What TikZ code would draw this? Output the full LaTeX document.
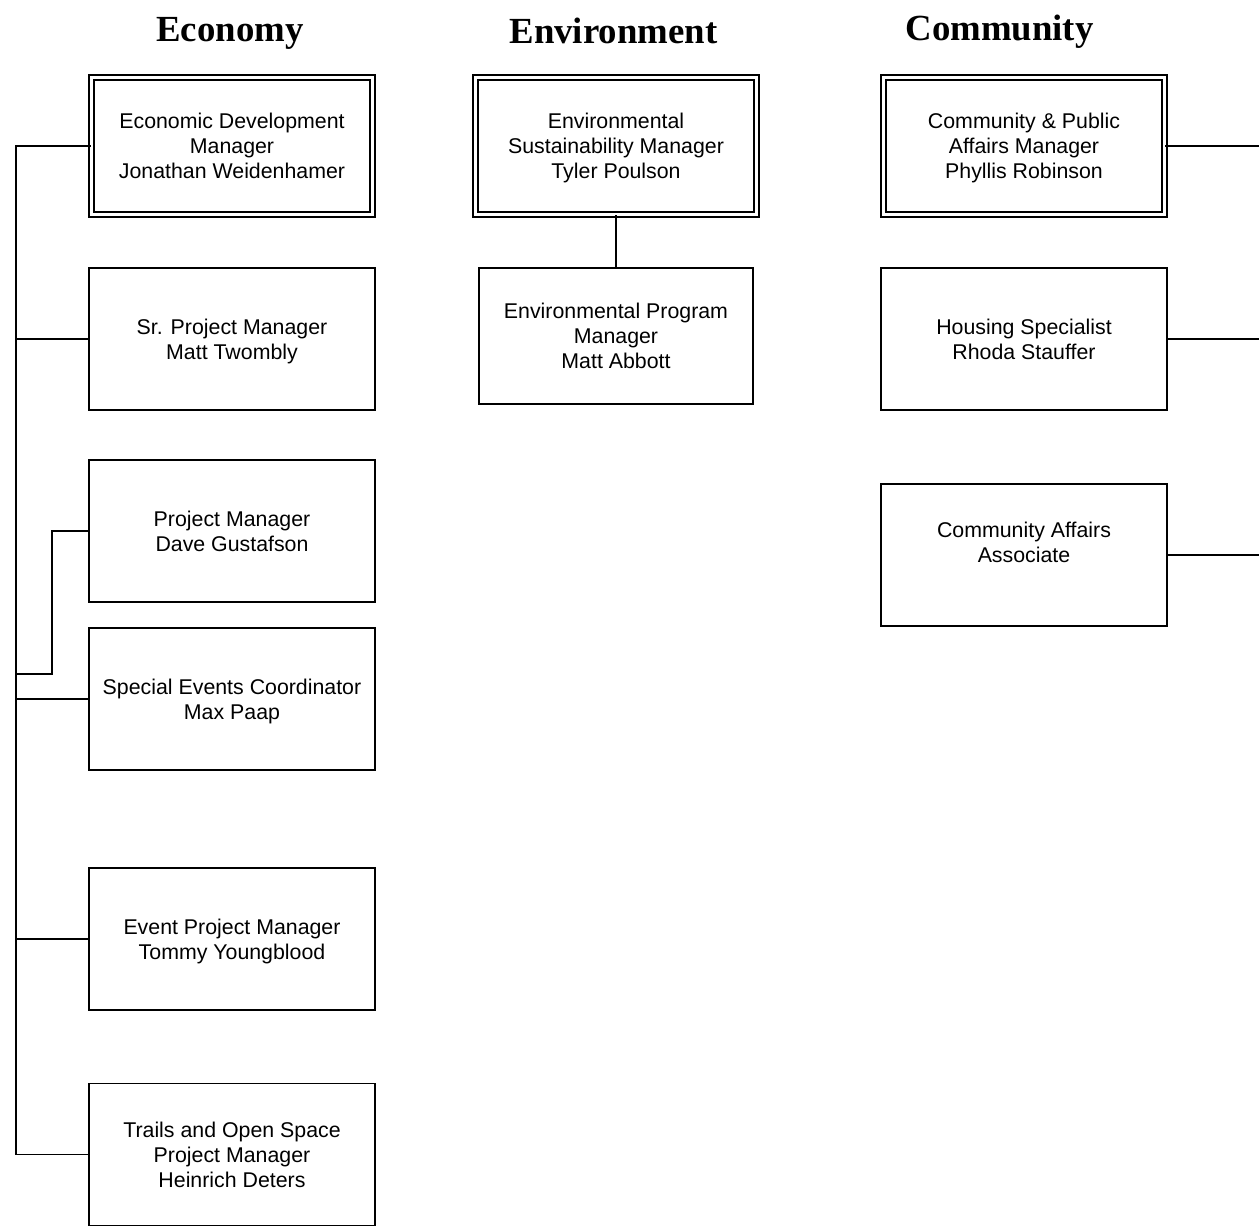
\documentclass[tikz,border=0pt]{standalone}
\usepackage{fontspec}
\setmainfont{Liberation Sans}
\newfontfamily\titlefont{Liberation Serif}
\newcommand\nodepth[1]{\raisebox{0pt}[\height][0pt]{#1}}
\begin{document}
\begin{tikzpicture}[x=0.75pt,y=-0.75pt,
  box/.style={draw, line width=1.4pt, rectangle, align=center,
    minimum width=214.5pt, minimum height=106.5pt, inner sep=0pt,
    font=\fontsize{16}{18.75}\selectfont},
  dbox/.style={box, line width=1.1pt, double, double distance=2.6pt,
    minimum width=210.75pt, minimum height=102.75pt},
  ttl/.style={anchor=base, font=\titlefont\bfseries\fontsize{27.6}{30}\selectfont},
  conn/.style={line width=1.4pt}]
\useasboundingbox (0,0) rectangle (1259,1227);
% titles
\node[ttl] (t1) at (230,42) {Economy};
\node[ttl] (t2) at (613.5,44) {Environment};
\node[ttl] (t3) at (999.5,41) {Community};
% economy
\node[dbox] (e1) at (232,146) {Economic Development\\Manager\\\nodepth{Jonathan Weidenhamer}};
\node[box] (e2) at (232,339) {Sr. Project Manager\\\nodepth{Matt Twombly}};
\node[box] (e3) at (232,531) {Project Manager\\\nodepth{Dave Gustafson}};
\node[box] (e4) at (232,699) {Special Events Coordinator\\\nodepth{Max Paap}};
\node[box] (e5) at (232,939) {Event Project Manager\\\nodepth{Tommy Youngblood}};
\node[box] (e6) at (232,1154.5) {Trails and Open Space\\Project Manager\\\nodepth{Heinrich Deters}};
% environment
\node[dbox] (v1) at (616,146) {Environmental\\Sustainability Manager\\\nodepth{Tyler Poulson}};
\node[box, minimum width=205.5pt, minimum height=102pt] (v2) at (616,336) {Environmental Program\\Manager\\\nodepth{Matt Abbott}};
% community
\node[dbox] (c1) at (1024,146) {Community \& Public\\Affairs Manager\\\nodepth{Phyllis Robinson}};
\node[box] (c2) at (1024,339) {Housing Specialist\\\nodepth{Rhoda Stauffer}};
\node[box] (c3) at (1024,555) {Community Affairs\\Associate\\\mbox{}};
% connector coordinates
\coordinate (ltop) at (16,146);
\coordinate (lbot) at (16,1154.5);
\coordinate (j3) at (16,674);
\coordinate (redge) at (1259,0);
% economy connectors
\draw[conn] (e1.west) -- (ltop) -- (lbot) -- (e6.west);
\draw[conn] (e2.west) -- (e2.west -| ltop);
\draw[conn] (e4.west) -- (e4.west -| ltop);
\draw[conn] (e5.west) -- (e5.west -| ltop);
\draw[conn] (e3.west) -- ++(-36,0) |- (j3);
% environment connector
\draw[conn] (v1.south) -- (v2.north);
% community connectors
\draw[conn] (c1.east) -- (c1.east -| redge);
\draw[conn] (c2.east) -- (c2.east -| redge);
\draw[conn] (c3.east) -- (c3.east -| redge);
\end{tikzpicture}
\end{document}
